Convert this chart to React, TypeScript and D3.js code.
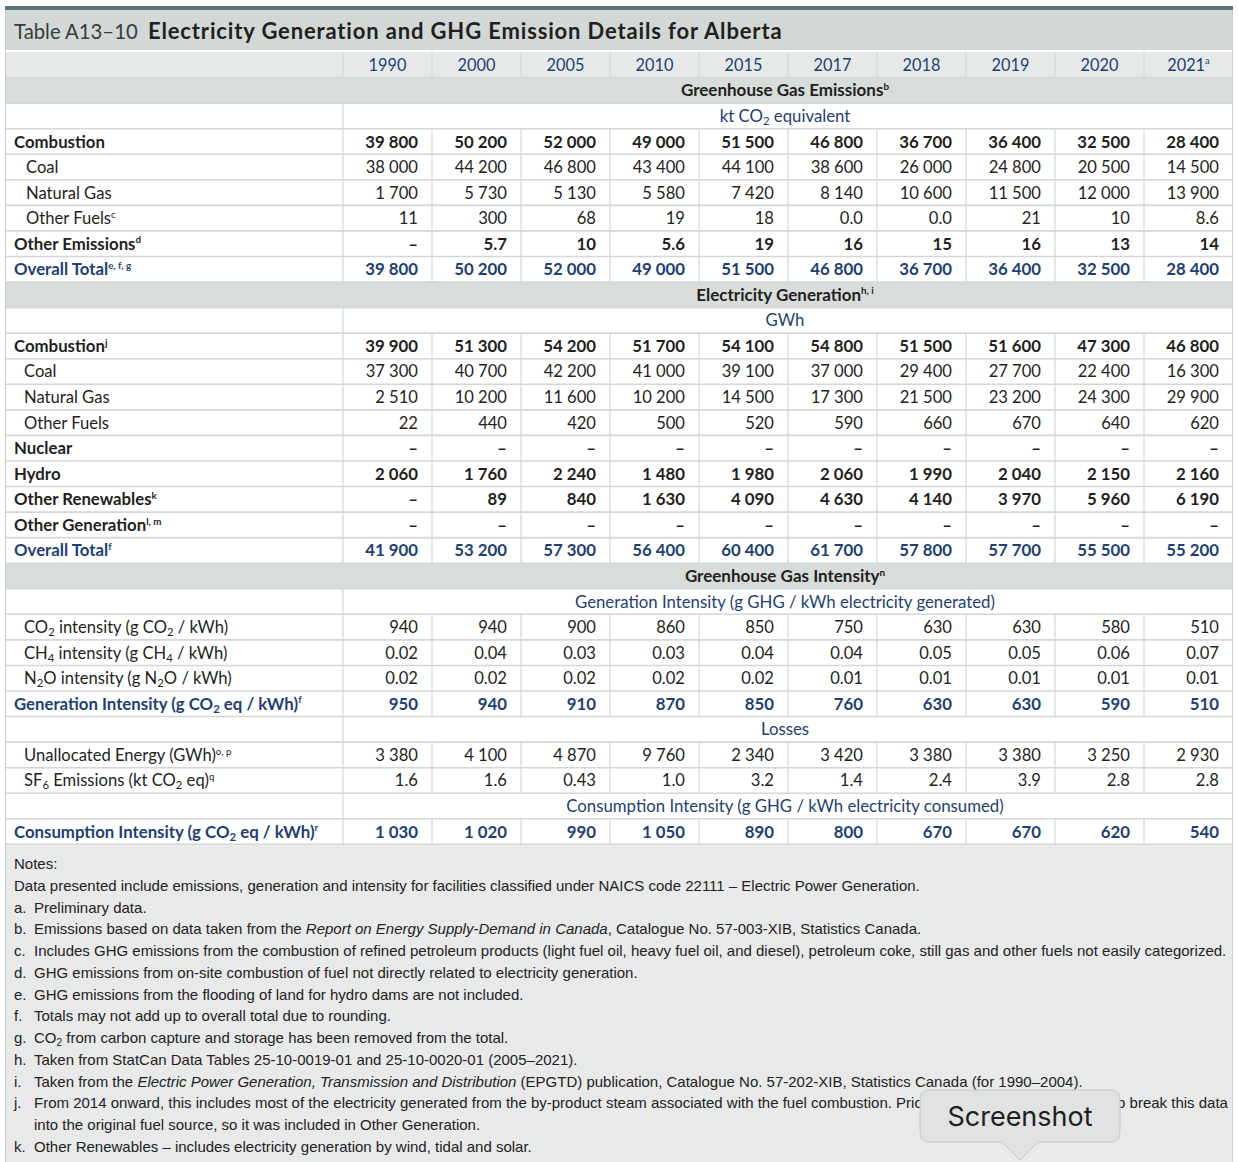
import React from 'react';
import * as d3 from 'd3';

// ---------- DATA ----------
const years = ['1990', '2000', '2005', '2010', '2015', '2017', '2018', '2019', '2020', '2021'];
const yearNotes = ['', '', '', '', '', '', '', '', '', 'a'];

// Greenhouse gas emissions (kt CO2 eq)
const ghgCombustion = ['39 800', '50 200', '52 000', '49 000', '51 500', '46 800', '36 700', '36 400', '32 500', '28 400'];
const ghgCoal = ['38 000', '44 200', '46 800', '43 400', '44 100', '38 600', '26 000', '24 800', '20 500', '14 500'];
const ghgNaturalGas = ['1 700', '5 730', '5 130', '5 580', '7 420', '8 140', '10 600', '11 500', '12 000', '13 900'];
const ghgOtherFuels = ['11', '300', '68', '19', '18', '0.0', '0.0', '21', '10', '8.6'];
const ghgOtherEmissions = ['–', '5.7', '10', '5.6', '19', '16', '15', '16', '13', '14'];
const ghgOverallTotal = ['39 800', '50 200', '52 000', '49 000', '51 500', '46 800', '36 700', '36 400', '32 500', '28 400'];

// Electricity generation (GWh)
const genCombustion = ['39 900', '51 300', '54 200', '51 700', '54 100', '54 800', '51 500', '51 600', '47 300', '46 800'];
const genCoal = ['37 300', '40 700', '42 200', '41 000', '39 100', '37 000', '29 400', '27 700', '22 400', '16 300'];
const genNaturalGas = ['2 510', '10 200', '11 600', '10 200', '14 500', '17 300', '21 500', '23 200', '24 300', '29 900'];
const genOtherFuels = ['22', '440', '420', '500', '520', '590', '660', '670', '640', '620'];
const genNuclear = ['–', '–', '–', '–', '–', '–', '–', '–', '–', '–'];
const genHydro = ['2 060', '1 760', '2 240', '1 480', '1 980', '2 060', '1 990', '2 040', '2 150', '2 160'];
const genOtherRenewables = ['–', '89', '840', '1 630', '4 090', '4 630', '4 140', '3 970', '5 960', '6 190'];
const genOtherGeneration = ['–', '–', '–', '–', '–', '–', '–', '–', '–', '–'];
const genOverallTotal = ['41 900', '53 200', '57 300', '56 400', '60 400', '61 700', '57 800', '57 700', '55 500', '55 200'];

// Intensity
const co2Intensity = ['940', '940', '900', '860', '850', '750', '630', '630', '580', '510'];
const ch4Intensity = ['0.02', '0.04', '0.03', '0.03', '0.04', '0.04', '0.05', '0.05', '0.06', '0.07'];
const n2oIntensity = ['0.02', '0.02', '0.02', '0.02', '0.02', '0.01', '0.01', '0.01', '0.01', '0.01'];
const generationIntensity = ['950', '940', '910', '870', '850', '760', '630', '630', '590', '510'];
const unallocatedEnergy = ['3 380', '4 100', '4 870', '9 760', '2 340', '3 420', '3 380', '3 380', '3 250', '2 930'];
const sf6Emissions = ['1.6', '1.6', '0.43', '1.0', '3.2', '1.4', '2.4', '3.9', '2.8', '2.8'];
const consumptionIntensity = ['1 030', '1 020', '990', '1 050', '890', '800', '670', '670', '620', '540'];

const titleLead = 'Table A13–10';
const titleMain = 'Electricity Generation and GHG Emission Details for Alberta';

const notes: [string, string][] = [
  ['', 'Notes:'],
  ['', 'Data presented include emissions, generation and intensity for facilities classified under NAICS code 22111 – Electric Power Generation.'],
  ['a.', 'Preliminary data.'],
  ['b.', 'Emissions based on data taken from the *{Report on Energy Supply-Demand in Canada}, Catalogue No. 57-003-XIB, Statistics Canada.'],
  ['c.', 'Includes GHG emissions from the combustion of refined petroleum products (light fuel oil, heavy fuel oil, and diesel), petroleum coke, still gas and other fuels not easily categorized.'],
  ['d.', 'GHG emissions from on-site combustion of fuel not directly related to electricity generation.'],
  ['e.', 'GHG emissions from the flooding of land for hydro dams are not included.'],
  ['f.', 'Totals may not add up to overall total due to rounding.'],
  ['g.', 'CO_{2} from carbon capture and storage has been removed from the total.'],
  ['h.', 'Taken from StatCan Data Tables 25-10-0019-01 and 25-10-0020-01 (2005–2021).'],
  ['i.', 'Taken from the *{Electric Power Generation, Transmission and Distribution} (EPGTD) publication, Catalogue No. 57-202-XIB, Statistics Canada (for 1990–2004).'],
  ['j.', 'From 2014 onward, this includes most of the electricity generated from the by-product steam associated with the fuel combustion. Prior to 2014 it was not possible to break this data'],
  ['', 'into the original fuel source, so it was included in Other Generation.'],
  ['k.', 'Other Renewables – includes electricity generation by wind, tidal and solar.'],
];

// ---------- ROW CONFIG ----------
type Row =
  | { kind: 'section'; label: string }
  | { kind: 'unit'; label: string }
  | { kind: 'data'; label: string; values: string[]; style: 'bold' | 'normal' | 'total'; indent?: number };

const rows: Row[] = [
  { kind: 'section', label: 'Greenhouse Gas Emissions^{b}' },
  { kind: 'unit', label: 'kt CO_{2} equivalent' },
  { kind: 'data', label: 'Combustion', values: ghgCombustion, style: 'bold' },
  { kind: 'data', label: 'Coal', values: ghgCoal, style: 'normal', indent: 26 },
  { kind: 'data', label: 'Natural Gas', values: ghgNaturalGas, style: 'normal', indent: 26 },
  { kind: 'data', label: 'Other Fuels^{c}', values: ghgOtherFuels, style: 'normal', indent: 26 },
  { kind: 'data', label: 'Other Emissions^{d}', values: ghgOtherEmissions, style: 'bold' },
  { kind: 'data', label: 'Overall Total^{e, f, g}', values: ghgOverallTotal, style: 'total' },
  { kind: 'section', label: 'Electricity Generation^{h, i}' },
  { kind: 'unit', label: 'GWh' },
  { kind: 'data', label: 'Combustion^{j}', values: genCombustion, style: 'bold' },
  { kind: 'data', label: 'Coal', values: genCoal, style: 'normal', indent: 24 },
  { kind: 'data', label: 'Natural Gas', values: genNaturalGas, style: 'normal', indent: 24 },
  { kind: 'data', label: 'Other Fuels', values: genOtherFuels, style: 'normal', indent: 24 },
  { kind: 'data', label: 'Nuclear', values: genNuclear, style: 'bold' },
  { kind: 'data', label: 'Hydro', values: genHydro, style: 'bold' },
  { kind: 'data', label: 'Other Renewables^{k}', values: genOtherRenewables, style: 'bold' },
  { kind: 'data', label: 'Other Generation^{l, m}', values: genOtherGeneration, style: 'bold' },
  { kind: 'data', label: 'Overall Total^{f}', values: genOverallTotal, style: 'total' },
  { kind: 'section', label: 'Greenhouse Gas Intensity^{n}' },
  { kind: 'unit', label: 'Generation Intensity (g GHG / kWh electricity generated)' },
  { kind: 'data', label: 'CO_{2} intensity (g CO_{2} / kWh)', values: co2Intensity, style: 'normal', indent: 24 },
  { kind: 'data', label: 'CH_{4} intensity (g CH_{4} / kWh)', values: ch4Intensity, style: 'normal', indent: 24 },
  { kind: 'data', label: 'N_{2}O intensity (g N_{2}O / kWh)', values: n2oIntensity, style: 'normal', indent: 24 },
  { kind: 'data', label: 'Generation Intensity (g CO_{2} eq / kWh)^{f}', values: generationIntensity, style: 'total' },
  { kind: 'unit', label: 'Losses' },
  { kind: 'data', label: 'Unallocated Energy (GWh)^{o, p}', values: unallocatedEnergy, style: 'normal', indent: 24 },
  { kind: 'data', label: 'SF_{6} Emissions (kt CO_{2} eq)^{q}', values: sf6Emissions, style: 'normal', indent: 24 },
  { kind: 'unit', label: 'Consumption Intensity (g GHG / kWh electricity consumed)' },
  { kind: 'data', label: 'Consumption Intensity (g CO_{2} eq / kWh)^{r}', values: consumptionIntensity, style: 'total' },
];

// ---------- STYLE ----------
const W = 1238;
const H = 1162;
const LEFT = 5;
const RIGHT = 1233;
const LABEL_RIGHT = 343;
const TABLE_TOP = 52;
const ROW_H = 25.56;
const FONT = "Lato, 'Open Sans', sans-serif";
const NOTE_FONT = "'Liberation Sans', Arial, sans-serif";
const BLUE = '#1d3f74';
const INK = '#231f20';
const GRID = '#d4d7d7';
const FS_REG = 16.6;
const FS_BOLD = 16.8;
const FS_SECTION = 17;
const FS_UNIT = 16.8;
const FS_YEAR = 16.3;
const FS_NOTE = 15;

// ---------- RICH TEXT ----------
type Seg = { t: string; mode: 'n' | 'sup' | 'sub' | 'it' };
function parse(s: string): Seg[] {
  const out: Seg[] = [];
  const re = /(\^\{[^}]*\}|_\{[^}]*\}|\*\{[^}]*\})/g;
  let last = 0;
  let m: RegExpExecArray | null;
  while ((m = re.exec(s))) {
    if (m.index > last) out.push({ t: s.slice(last, m.index), mode: 'n' });
    const tok = m[0];
    const inner = tok.slice(2, -1);
    out.push({ t: inner, mode: tok[0] === '^' ? 'sup' : tok[0] === '_' ? 'sub' : 'it' });
    last = m.index + tok.length;
  }
  if (last < s.length) out.push({ t: s.slice(last), mode: 'n' });
  return out;
}

function Rich({ s, fs }: { s: string; fs: number }) {
  const segs = parse(s);
  let cur = 0;
  return (
    <>
      {segs.map((g, i) => {
        const target = g.mode === 'sup' ? -fs * 0.38 : g.mode === 'sub' ? fs * 0.18 : 0;
        const dy = target - cur;
        cur = target;
        const size = g.mode === 'sup' ? fs * 0.58 : g.mode === 'sub' ? fs * 0.68 : fs;
        return (
          <tspan
            key={i}
            dy={dy !== 0 ? dy : undefined}
            fontSize={size}
            fontStyle={g.mode === 'it' ? 'italic' : undefined}
          >
            {g.t}
          </tspan>
        );
      })}
    </>
  );
}

export default function App() {
  const x = d3.scaleBand<string>().domain(years).range([LABEL_RIGHT, RIGHT]);
  const allRows = d3.range(rows.length + 1);
  const y = d3
    .scaleBand<number>()
    .domain(allRows)
    .range([TABLE_TOP, TABLE_TOP + ROW_H * (rows.length + 1)]);
  const tableBottom = TABLE_TOP + ROW_H * (rows.length + 1);
  const dataCenter = (LABEL_RIGHT + RIGHT) / 2 - 3;
  const base = (i: number, fs = 16) => (y(i) as number) + ROW_H / 2 + fs * 0.36;

  const noteY = d3
    .scaleLinear()
    .domain([0, notes.length - 1])
    .range([869, 1152]);

  return (
    <div style={{ position: 'absolute', left: 0, top: 0, width: W, height: H }}>
      <style>{'body{margin:0;}'}</style>
      <svg width={W} height={H} viewBox={`0 0 ${W} ${H}`} style={{ display: 'block' }}>
        <rect x={0} y={0} width={W} height={H} fill="#ffffff" />
        {/* top strip + title band */}
        <rect x={LEFT} y={6} width={RIGHT - LEFT} height={4} fill="#5b7479" />
        <rect x={LEFT} y={10} width={RIGHT - LEFT} height={40} fill="#d1d8d6" />
        <text x={14} y={39} fontFamily={FONT} fontSize={20.3} fill="#3a3a3a">
          {titleLead}
        </text>
        <text x={148} y={39} fontFamily={FONT} fontSize={22} fontWeight="bold" letterSpacing={0.85} fill={INK}>
          {titleMain}
        </text>

        {/* row backgrounds */}
        <rect x={LEFT} y={y(0)} width={RIGHT - LEFT} height={ROW_H} fill="#e7e9e9" />
        {rows.map((r, k) => {
          const i = k + 1;
          if (r.kind !== 'section') return null;
          return <rect key={'bg' + i} x={LEFT} y={y(i)} width={RIGHT - LEFT} height={ROW_H} fill="#d8dcdb" />;
        })}

        {/* horizontal grid lines */}
        {allRows.map((i) => (
          <line
            key={'h' + i}
            x1={LEFT}
            x2={RIGHT}
            y1={(y(i) as number) + ROW_H}
            y2={(y(i) as number) + ROW_H}
            stroke={GRID}
            strokeWidth={1.6}
          />
        ))}
        <line x1={LEFT} x2={RIGHT} y1={TABLE_TOP - 1} y2={TABLE_TOP - 1} stroke="#ffffff" strokeWidth={2} />

        {/* vertical grid lines */}
        {allRows.map((i) => {
          const r = i === 0 ? null : rows[i - 1];
          if (r && r.kind === 'section') return null;
          const xs = r && r.kind === 'unit' ? [LABEL_RIGHT] : years.map((yr) => x(yr) as number);
          return xs.map((xv, j) => (
            <line
              key={'v' + i + '-' + j}
              x1={xv}
              x2={xv}
              y1={y(i) as number}
              y2={(y(i) as number) + ROW_H}
              stroke={GRID}
              strokeWidth={1.2}
            />
          ));
        })}

        {/* outer borders */}
        <line x1={LEFT + 0.5} x2={LEFT + 0.5} y1={10} y2={H} stroke="#c8cccc" strokeWidth={1} />
        <line x1={RIGHT - 0.5} x2={RIGHT - 0.5} y1={10} y2={H} stroke="#c8cccc" strokeWidth={1} />

        {/* year header */}
        {years.map((yr, j) => (
          <text
            key={'yr' + yr}
            x={(x(yr) as number) + x.bandwidth() / 2}
            y={base(0, FS_YEAR)}
            textAnchor="middle"
            fontFamily={FONT}
            fontSize={FS_YEAR}
            fill={BLUE}
          >
            <Rich s={yearNotes[j] ? `${yr}^{${yearNotes[j]}}` : yr} fs={FS_YEAR} />
          </text>
        ))}

        {/* rows */}
        {rows.map((r, k) => {
          const i = k + 1;
          if (r.kind === 'section') {
            return (
              <text key={'r' + i} x={dataCenter} y={base(i, FS_SECTION)} textAnchor="middle" fontFamily={FONT} fontSize={FS_SECTION} fontWeight="bold" fill={INK}>
                <Rich s={r.label} fs={FS_SECTION} />
              </text>
            );
          }
          if (r.kind === 'unit') {
            return (
              <text key={'r' + i} x={dataCenter} y={base(i, FS_UNIT)} textAnchor="middle" fontFamily={FONT} fontSize={FS_UNIT} fill={BLUE}>
                <Rich s={r.label} fs={FS_UNIT} />
              </text>
            );
          }
          const bold = r.style !== 'normal';
          const fs = bold ? FS_BOLD : FS_REG;
          const color = r.style === 'total' ? BLUE : INK;
          return (
            <g key={'r' + i}>
              <text
                x={r.indent ?? 14}
                y={base(i, fs)}
                fontFamily={FONT}
                fontSize={fs}
                fontWeight={bold ? 'bold' : 'normal'}
                fill={color}
              >
                <Rich s={r.label} fs={fs} />
              </text>
              {r.values.map((v, j) => (
                <text
                  key={j}
                  x={(x(years[j]) as number) + x.bandwidth() - 14}
                  y={base(i, fs)}
                  textAnchor="end"
                  fontFamily={FONT}
                  fontSize={fs}
                  fontWeight={bold ? 'bold' : 'normal'}
                  fill={color}
                >
                  {v}
                </text>
              ))}
            </g>
          );
        })}

        {/* notes */}
        <rect x={LEFT + 1} y={tableBottom + 1} width={RIGHT - LEFT - 2} height={H - tableBottom} fill="#e8e9e9" />
        {notes.map(([tag, txt], n) => (
          <g key={'n' + n}>
            {tag && (
              <text x={14} y={noteY(n)} fontFamily={NOTE_FONT} fontSize={FS_NOTE} fill="#222">
                {tag}
              </text>
            )}
            <text x={n < 2 ? 14 : 34} y={noteY(n)} fontFamily={NOTE_FONT} fontSize={FS_NOTE} fill="#222">
              <Rich s={txt} fs={FS_NOTE} />
            </text>
          </g>
        ))}

        {/* tooltip */}
        <g>
          <path
            d="M930,1090 H1110 Q1120,1090 1120,1100 V1132 Q1120,1142 1110,1142 H1038 L1020,1160 L1002,1142 H930 Q920,1142 920,1132 V1100 Q920,1090 930,1090 Z"
            fill="#e1e2e2"
            stroke="#c6c8c8"
            strokeWidth={1}
          />
          <text x={1020} y={1126} textAnchor="middle" fontFamily="Inter, Roboto, sans-serif" fontSize={27} fill="#1e1e1e">
            Screenshot
          </text>
        </g>
      </svg>
    </div>
  );
}
